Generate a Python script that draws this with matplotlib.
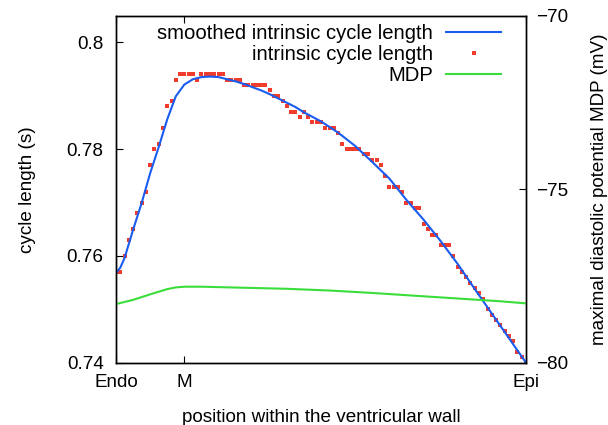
import matplotlib.pyplot as plt

plt.rcParams['font.family'] = ['Liberation Sans', 'DejaVu Sans']
plt.rcParams['font.size'] = 13.6

# intrinsic cycle length (s), one value per cell position 0..96
cl_raw = [0.757, 0.757, 0.760, 0.763, 0.765, 0.768, 0.770, 0.772, 0.777, 0.780,
          0.781, 0.784, 0.788, 0.789, 0.793, 0.794, 0.794, 0.794, 0.794, 0.793,
          0.794, 0.794, 0.794, 0.794, 0.794, 0.794, 0.793, 0.793, 0.793, 0.793,
          0.792, 0.792, 0.792, 0.792, 0.792, 0.792, 0.791, 0.790, 0.790, 0.789,
          0.788, 0.787, 0.787, 0.786, 0.787, 0.786, 0.785, 0.785, 0.785, 0.784,
          0.784, 0.784, 0.783, 0.781, 0.780, 0.780, 0.780, 0.780, 0.779, 0.779,
          0.778, 0.778, 0.777, 0.775, 0.773, 0.773, 0.773, 0.772, 0.770, 0.770,
          0.769, 0.769, 0.766, 0.765, 0.764, 0.764, 0.762, 0.762, 0.762, 0.760,
          0.758, 0.757, 0.756, 0.755, 0.754, 0.753, 0.752, 0.750, 0.749, 0.748,
          0.747, 0.746, 0.745, 0.744, 0.742, 0.741, 0.740]
pos_raw = list(range(len(cl_raw)))

# smoothed cycle length, read at selected positions
pos_smooth = [0, 1, 2, 4, 6, 8, 10, 12, 14, 16, 18, 20, 22, 24, 26, 28, 30, 32,
              34, 36, 38, 40, 42, 44, 48, 52, 56, 60, 64, 68, 72, 76, 80, 84,
              88, 92, 96]
cl_smooth = [0.7568, 0.7578, 0.7596, 0.7649, 0.7699, 0.7755, 0.7804, 0.7856,
             0.7899, 0.7921, 0.7931, 0.7935, 0.7936, 0.7935, 0.7931, 0.7927,
             0.7922, 0.7916, 0.7910, 0.7903, 0.7895, 0.7887, 0.7879, 0.7869,
             0.7852, 0.7831, 0.7806, 0.7776, 0.7745, 0.7705, 0.7668, 0.7628,
             0.7585, 0.7538, 0.7492, 0.7446, 0.7400]

# maximal diastolic potential (mV)
pos_mdp = [0, 4, 8, 12, 14, 16, 20, 30, 40, 50, 60, 70, 80, 90, 96]
mdp = [-78.31, -78.19, -78.03, -77.88, -77.83, -77.81, -77.81, -77.84, -77.87,
       -77.92, -77.99, -78.07, -78.15, -78.23, -78.29]

xtick_pos = [0, 16, 96]
xtick_labels = ['Endo', 'M', 'Epi']

fig = plt.figure(figsize=(6.08, 4.25), dpi=100)
ax = fig.add_axes([116 / 608, 1 - 362.7 / 425, 410 / 608, 347 / 425])
ax2 = ax.twinx()

l1, = ax.plot(pos_smooth, cl_smooth, color='#1a5cf0', lw=1.5,
              label='smoothed intrinsic cycle length', zorder=3)
l2, = ax.plot(pos_raw, cl_raw, ls='none', marker='s', ms=2.6, mew=0,
              color='#f03c2c', label='intrinsic cycle length', zorder=2)
l3, = ax2.plot(pos_mdp, mdp, color='#3ade3a', lw=1.5, label='MDP')

ax.set_xlim(0, 96)
ax.set_ylim(0.74, 0.805)
ax2.set_ylim(-80, -70)

ax.set_xticks(xtick_pos)
ax.set_xticklabels(xtick_labels)
ax.set_yticks([0.74, 0.76, 0.78, 0.8])
ax.set_yticklabels(['0.74', '0.76', '0.78', '0.8'])
ax2.set_yticks([-80, -75, -70])

ax.tick_params(axis='both', direction='in', length=5, pad=9, top=True)
ax.tick_params(axis='x', pad=8)
ax2.tick_params(axis='y', direction='in', length=5, pad=7)

ax.set_xlabel('position within the ventricular wall', labelpad=13)
ax.set_ylabel('cycle length (s)', labelpad=22)
ax2.set_ylabel('maximal diastolic potential MDP (mV)', rotation=90, labelpad=17)

for a in (ax, ax2):
    for s in a.spines.values():
        s.set_linewidth(1.0)

ax2.legend(handles=[l1, l2, l3], loc='upper right', markerfirst=False,
           frameon=False, bbox_to_anchor=(501 / 608, 1 - 24 / 425),
           bbox_transform=fig.transFigure, borderpad=0, borderaxespad=0,
           fontsize=14.6, handlelength=2.7, handletextpad=0.65,
           labelspacing=0.1, numpoints=1)

fig.savefig('out.png', dpi=100)
